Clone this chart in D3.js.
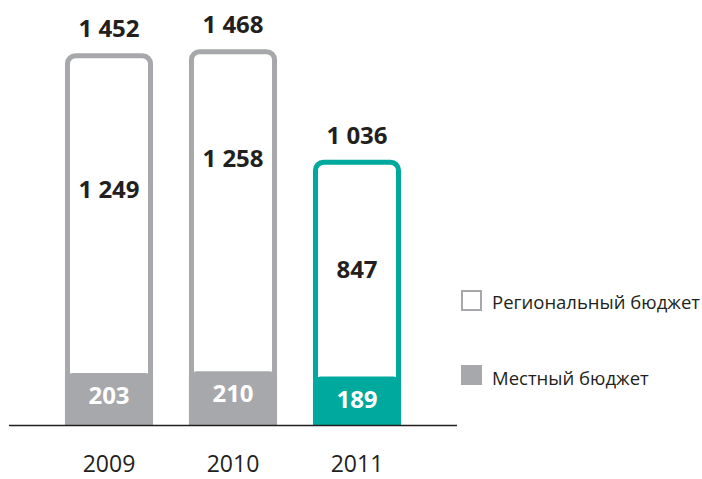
<!DOCTYPE html>
<html>
<head>
<meta charset="utf-8">
<script src="https://cdn.jsdelivr.net/npm/d3@7"></script>
<style>
  html, body { margin: 0; padding: 0; background: #fff; }
  svg { display: block; }
  text { font-family: "Open Sans", "DejaVu Sans", sans-serif; }
</style>
</head>
<body>
<script>
// Budget figures by year
const years = ["2009", "2010", "2011"];
const regional = [1249, 1258, 847];
const local = [203, 210, 189];
const totals = [1452, 1468, 1036];
const seriesNames = ["Региональный бюджет", "Местный бюджет"];

const W = 702, H = 479;
const baseY = 425;
const grey = "#a7a8ab";
const teal = "#00a99d";
const ink = "#231f20";
const sw = 5;           // outline width of the regional part
const r = 8;            // corner radius

// vertical nudges of the regional labels relative to the middle of their segment
const midNudge = [-23, -51, 2];

const svg = d3.select("body").append("svg")
  .attr("width", W).attr("height", H);

const x = d3.scaleBand().domain(years).range([47, 419])
  .paddingInner(0.29).paddingOuter(0.145);
const y = d3.scaleLinear().domain([0, 1468]).range([baseY, baseY - 1468 * 0.256]);

const rows = years.map((yr, i) => ({
  year: yr, regional: regional[i], local: local[i], total: totals[i],
  color: i === years.length - 1 ? teal : grey, i
}));

const g = svg.append("g");

// regional part: open-bottom rounded outline
g.selectAll("path.reg").data(rows).join("path")
  .attr("class", "reg")
  .attr("fill", "none")
  .attr("stroke", d => d.color)
  .attr("stroke-width", sw)
  .attr("d", d => {
    const x0 = x(d.year) + sw / 2, x1 = x(d.year) + x.bandwidth() - sw / 2;
    const t = y(d.total) + sw / 2;
    const p = d3.path();
    p.moveTo(x0, baseY);
    p.lineTo(x0, t + r);
    p.arcTo(x0, t, x0 + r, t, r);
    p.lineTo(x1 - r, t);
    p.arcTo(x1, t, x1, t + r, r);
    p.lineTo(x1, baseY);
    return p.toString();
  });

// local part: filled block with rounded top
g.selectAll("path.loc").data(rows).join("path")
  .attr("class", "loc")
  .attr("fill", d => d.color)
  .attr("d", d => {
    const x0 = x(d.year), x1 = x(d.year) + x.bandwidth();
    const t = y(d.local);
    const p = d3.path();
    p.moveTo(x0, baseY);
    p.lineTo(x0, t + r);
    p.arcTo(x0, t, x0 + r, t, r);
    p.lineTo(x1 - r, t);
    p.arcTo(x1, t, x1, t + r, r);
    p.lineTo(x1, baseY);
    p.closePath();
    return p.toString();
  });

const cx = d => x(d.year) + x.bandwidth() / 2;
const fmt = v => d3.format(",")(v).replace(",", " ");

// totals above bars
g.selectAll("text.tot").data(rows).join("text")
  .attr("class", "tot")
  .attr("x", cx).attr("y", d => y(d.total) - 16)
  .attr("text-anchor", "middle")
  .attr("font-size", 24).attr("font-weight", 700).attr("fill", ink)
  .text(d => fmt(d.total));

// regional values inside outline
g.selectAll("text.regv").data(rows).join("text")
  .attr("class", "regv")
  .attr("x", cx)
  .attr("y", d => (y(d.total) + y(d.local)) / 2 + midNudge[d.i] + 8)
  .attr("text-anchor", "middle")
  .attr("font-size", 24).attr("font-weight", 700).attr("fill", ink)
  .text(d => fmt(d.regional));

// local values inside filled block
g.selectAll("text.locv").data(rows).join("text")
  .attr("class", "locv")
  .attr("x", cx)
  .attr("y", d => y(d.local) + 31)
  .attr("text-anchor", "middle")
  .attr("font-size", 24).attr("font-weight", 700).attr("fill", "#fff")
  .text(d => d.local);

// baseline
svg.append("line")
  .attr("x1", 9).attr("x2", 457)
  .attr("y1", baseY + 0.5).attr("y2", baseY + 0.5)
  .attr("stroke", ink).attr("stroke-width", 1.6);

// year labels
const xAxis = d3.axisBottom(x).tickSize(0).tickPadding(0);
const ax = svg.append("g").attr("transform", `translate(0,${baseY})`).call(xAxis);
ax.select(".domain").remove();
ax.selectAll("text")
  .attr("dy", null).attr("y", 47)
  .attr("font-size", 23).attr("fill", ink)
  .style("font-family", "'Open Sans', sans-serif");

// legend
const leg = svg.append("g");
leg.append("rect").attr("x", 462).attr("y", 291).attr("width", 19).attr("height", 19)
  .attr("fill", "#fff").attr("stroke", grey).attr("stroke-width", 2);
leg.append("text").attr("x", 492).attr("y", 309)
  .attr("font-size", 18.5).attr("fill", ink).text(seriesNames[0]);
leg.append("rect").attr("x", 461).attr("y", 365).attr("width", 21).attr("height", 20)
  .attr("fill", grey);
leg.append("text").attr("x", 492).attr("y", 385)
  .attr("font-size", 18.5).attr("fill", ink).text(seriesNames[1]);
</script>
</body>
</html>
